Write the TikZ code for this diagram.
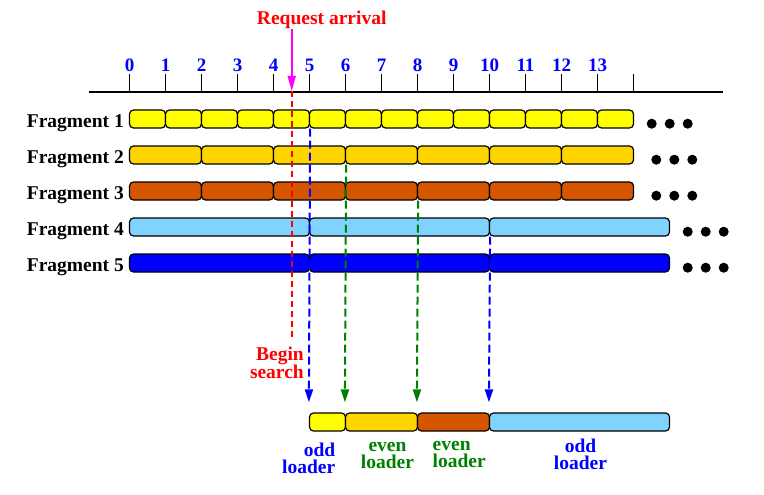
\documentclass[tikz,border=0pt]{standalone}
\usepackage{fontspec}
\setmainfont{Liberation Serif}
\usetikzlibrary{arrows.meta}
\definecolor{fyel}{RGB}{255,255,0}
\definecolor{fgold}{RGB}{255,213,0}
\definecolor{forange}{RGB}{213,85,0}
\definecolor{flblue}{RGB}{128,210,255}
\definecolor{fblue}{RGB}{0,0,255}
\definecolor{dgreen}{RGB}{0,128,0}
\definecolor{fmag}{RGB}{255,0,255}
\definecolor{fred}{RGB}{255,0,0}
\begin{document}
\begin{tikzpicture}[x=1pt,y=-1pt,
  seg/.style={draw=black, line width=1.2pt, rounded corners=4pt, inner sep=0pt, minimum height=18pt},
  lbl/.style={font=\fontsize{19.5}{17}\selectfont\bfseries, inner sep=0pt},
  num/.style={font=\fontsize{19}{19}\selectfont\bfseries, text=fblue, inner sep=0pt, anchor=base},
  dot/.style={circle, fill=black, inner sep=0pt, minimum size=10pt},
  tick/.style={line width=1.3pt},
  oddarrow/.style={draw=fblue, line width=2pt, dash pattern=on 8pt off 4pt, -{Triangle[length=13pt,width=8pt]}},
  evenarrow/.style={draw=dgreen, line width=2pt, dash pattern=on 8pt off 4pt, -{Triangle[length=13pt,width=8pt]}}]
\useasboundingbox (0,0) rectangle (764,495);

% axis
\coordinate (axL) at (89,92);
\coordinate (axR) at (723,92);
\draw[line width=1.4pt] (axL) -- (axR);
\foreach \i in {0,...,14}{
  \coordinate (tt\i) at ({129.5+36*\i},74);
  \coordinate (tb\i) at ({129.5+36*\i},92);
  \draw[tick] (tt\i) -- (tb\i);
}
\foreach \i in {0,...,13}{
  \node[num] (n\i) at ({129.5+36*\i},72) {\i};
}

% fragments
\foreach \i in {0,...,13}
  \node[seg, fill=fyel, minimum width=36pt] (a\i) at ({129.5+36*\i+18},119) {};
\foreach \i in {0,...,6}
  \node[seg, fill=fgold, minimum width=72pt] (c\i) at ({129.5+72*\i+36},155) {};
\foreach \i in {0,...,6}
  \node[seg, fill=forange, minimum width=72pt] (d\i) at ({129.5+72*\i+36},191) {};
\foreach \i in {0,1,2}
  \node[seg, fill=flblue, minimum width=180pt] (e\i) at ({129.5+180*\i+90},227) {};
\foreach \i in {0,1,2}
  \node[seg, fill=fblue, minimum width=180pt] (g\i) at ({129.5+180*\i+90},263) {};

\node[lbl, anchor=base east] (l1) at (124,128) {Fragment 1};
\node[lbl, anchor=base east] (l2) at (124,163.5) {Fragment 2};
\node[lbl, anchor=base east] (l3) at (124,199) {Fragment 3};
\node[lbl, anchor=base east] (l4) at (124,235) {Fragment 4};
\node[lbl, anchor=base east] (l5) at (124,271) {Fragment 5};

% dots
\foreach \k in {0,1,2}{
  \node[dot] (p1\k) at ({651.7+18*\k},123.7) {};
  \node[dot] (p2\k) at ({656.3+18*\k},159.7) {};
  \node[dot] (p3\k) at ({656.3+18*\k},195.7) {};
  \node[dot] (p4\k) at ({687.7+18*\k},231.7) {};
  \node[dot] (p5\k) at ({687.7+18*\k},267.7) {};
}

% request arrival
\node[lbl, text=fred, anchor=base] (req) at (321.7,25) {Request arrival};
\coordinate (rqtop) at (291.7,29);
\coordinate (rqbot) at (291.7,91);
\coordinate (rsbot) at (291.7,340);
\draw[draw=fmag, line width=1.6pt, -{Triangle[length=15pt,width=8pt]}] (rqtop) -- (rqbot);
\draw[draw=fred, line width=1.7pt, dash pattern=on 6pt off 4pt] (rqbot) -- (rsbot);
\node[lbl, text=fred, align=right, anchor=east, font=\fontsize{19.5}{18}\selectfont\bfseries] (bs) at (304,362.5) {Begin\\search};

% bottom bar
\node[seg, fill=fyel, minimum width=36pt] (b1) at (327.5,422) {};
\node[seg, fill=fgold, minimum width=72pt] (b2) at (381.5,422) {};
\node[seg, fill=forange, minimum width=72pt] (b3) at (453.5,422) {};
\node[seg, fill=flblue, minimum width=180pt] (b4) at (579.5,422) {};

% loader arrows
\draw[oddarrow] (a4.south east) -- ([yshift=10pt]b1.north west);
\draw[evenarrow] (c2.south east) -- ([yshift=10pt]b2.north west);
\draw[evenarrow] (d3.south east) -- ([yshift=10pt]b3.north west);
\draw[oddarrow] (e1.south east) -- ([yshift=10pt]b4.north west);

% loader labels
\node[lbl, text=fblue, align=right, anchor=east] (o1) at (335.5,458) {odd\\loader};
\node[lbl, text=dgreen, align=center, anchor=center] (ev1) at (387.5,455.5) {even\\loader};
\node[lbl, text=dgreen, align=left, anchor=west] (ev2) at (432.5,454.5) {even\\loader};
\node[lbl, text=fblue, align=center, anchor=center] (o2) at (580.5,454.5) {odd\\loader};
\end{tikzpicture}
\end{document}
